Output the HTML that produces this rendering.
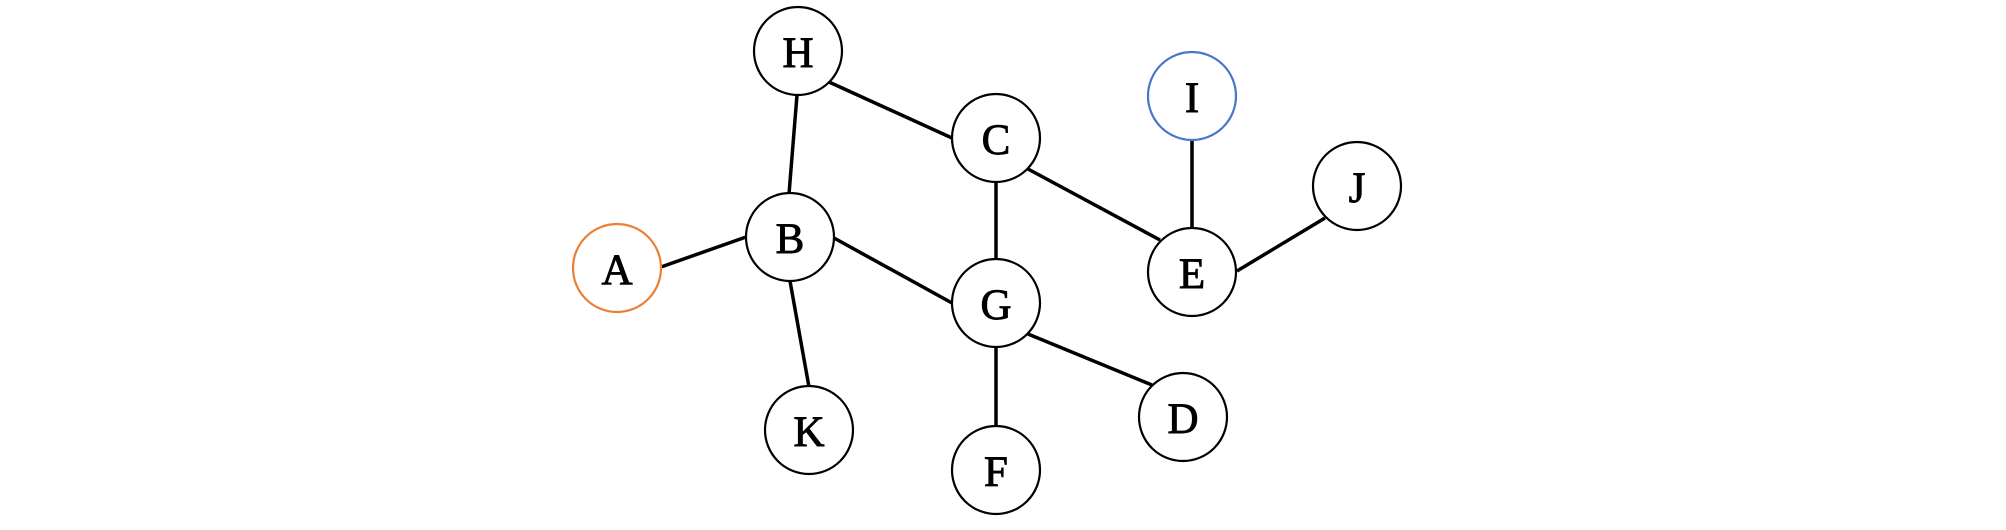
<!DOCTYPE html>
<html><head><style>html,body{margin:0;padding:0;background:#fff}svg{display:block}</style></head>
<body>
<svg width="2006" height="530" viewBox="0 0 2006 530" xmlns="http://www.w3.org/2000/svg">
<g stroke="#000" stroke-width="3.5">
<line x1="797" y1="95" x2="789" y2="194"/>
<line x1="829" y1="82" x2="952" y2="138"/>
<line x1="661" y1="267" x2="746" y2="237"/>
<line x1="834" y1="238" x2="952" y2="303"/>
<line x1="790" y1="281" x2="809" y2="387"/>
<line x1="996" y1="181" x2="996" y2="261"/>
<line x1="1028" y1="169" x2="1160" y2="240"/>
<line x1="996" y1="347" x2="996" y2="427"/>
<line x1="1028" y1="334" x2="1152" y2="385"/>
<line x1="1192" y1="140" x2="1192" y2="228"/>
<line x1="1237" y1="271" x2="1325" y2="218"/>
</g>
<g fill="#fff" stroke="#000" stroke-width="2.2">
<circle cx="798" cy="51" r="44"/>
<circle cx="996" cy="138" r="44"/>
<circle cx="790" cy="237" r="44"/>
<circle cx="617" cy="268" r="44" stroke="#EC7F33"/>
<circle cx="996" cy="303" r="44"/>
<circle cx="809" cy="430" r="44"/>
<circle cx="996" cy="470" r="44"/>
<circle cx="1192" cy="96" r="44" stroke="#4677C8"/>
<circle cx="1357" cy="186" r="44"/>
<circle cx="1192" cy="272" r="44"/>
<circle cx="1183" cy="417" r="44"/>
</g>
<g font-family="Liberation Serif, serif" font-size="43" text-anchor="middle" fill="#000" stroke="#000" stroke-width="0.9">
<text x="798" y="67">H</text>
<text x="996" y="154">C</text>
<text x="790" y="253">B</text>
<text x="617" y="284">A</text>
<text x="996" y="319">G</text>
<text x="809" y="446">K</text>
<text x="996" y="486">F</text>
<text x="1192" y="112">I</text>
<text x="1357" y="202">J</text>
<text x="1192" y="288">E</text>
<text x="1183" y="433">D</text>
</g>
</svg>
</body></html>
